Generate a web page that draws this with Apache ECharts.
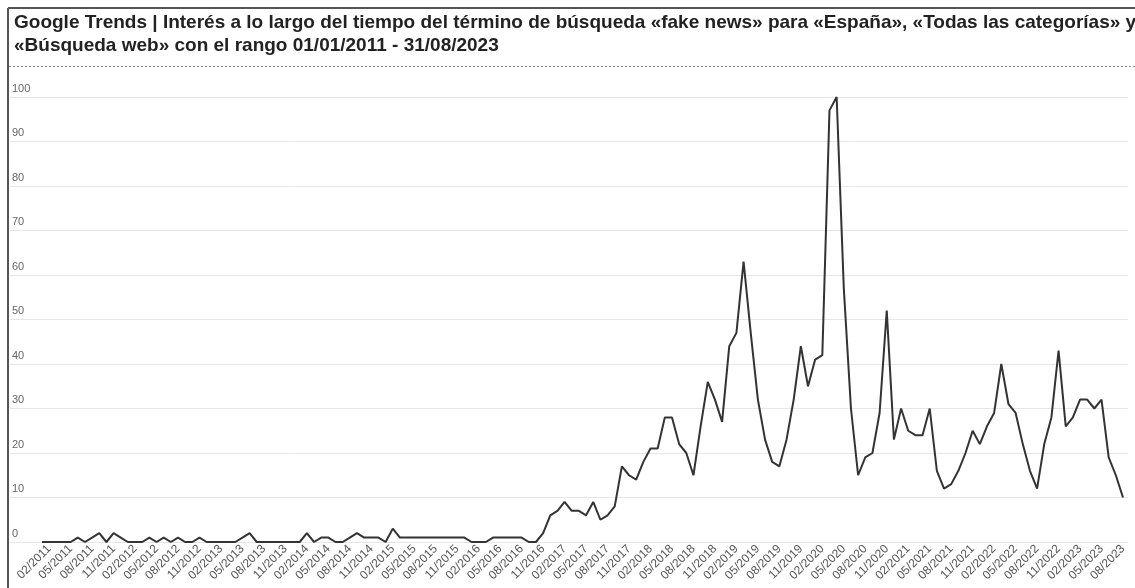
<!DOCTYPE html>
<html>
<head>
<meta charset="utf-8">
<script src="https://cdn.jsdelivr.net/npm/echarts@6/dist/echarts.min.js"></script>
<style>
html,body{margin:0;padding:0;background:#fff;}
#chart{width:1135px;height:588px;}
</style>
</head>
<body>
<div id="chart"></div>
<script>
var titleText = 'Google Trends | Interés a lo largo del tiempo del término de búsqueda «fake news» para «España», «Todas las categorías» y\n«Búsqueda web» con el rango 01/01/2011 - 31/08/2023';

var months = [
'01/2011','02/2011','03/2011','04/2011','05/2011','06/2011','07/2011','08/2011','09/2011','10/2011','11/2011','12/2011',
'01/2012','02/2012','03/2012','04/2012','05/2012','06/2012','07/2012','08/2012','09/2012','10/2012','11/2012','12/2012',
'01/2013','02/2013','03/2013','04/2013','05/2013','06/2013','07/2013','08/2013','09/2013','10/2013','11/2013','12/2013',
'01/2014','02/2014','03/2014','04/2014','05/2014','06/2014','07/2014','08/2014','09/2014','10/2014','11/2014','12/2014',
'01/2015','02/2015','03/2015','04/2015','05/2015','06/2015','07/2015','08/2015','09/2015','10/2015','11/2015','12/2015',
'01/2016','02/2016','03/2016','04/2016','05/2016','06/2016','07/2016','08/2016','09/2016','10/2016','11/2016','12/2016',
'01/2017','02/2017','03/2017','04/2017','05/2017','06/2017','07/2017','08/2017','09/2017','10/2017','11/2017','12/2017',
'01/2018','02/2018','03/2018','04/2018','05/2018','06/2018','07/2018','08/2018','09/2018','10/2018','11/2018','12/2018',
'01/2019','02/2019','03/2019','04/2019','05/2019','06/2019','07/2019','08/2019','09/2019','10/2019','11/2019','12/2019',
'01/2020','02/2020','03/2020','04/2020','05/2020','06/2020','07/2020','08/2020','09/2020','10/2020','11/2020','12/2020',
'01/2021','02/2021','03/2021','04/2021','05/2021','06/2021','07/2021','08/2021','09/2021','10/2021','11/2021','12/2021',
'01/2022','02/2022','03/2022','04/2022','05/2022','06/2022','07/2022','08/2022','09/2022','10/2022','11/2022','12/2022',
'01/2023','02/2023','03/2023','04/2023','05/2023','06/2023','07/2023','08/2023'
];

var interest = [
0,0,0,0,0,1,0,1,2,0,2,1,
0,0,0,1,0,1,0,1,0,0,1,0,
0,0,0,0,1,2,0,0,0,0,0,0,
0,2,0,1,1,0,0,1,2,1,1,1,
0,3,1,1,1,1,1,1,1,1,1,1,
0,0,0,1,1,1,1,1,0,0,2,6,
7,9,7,7,6,9,5,6,8,17,15,14,
18,21,21,28,28,22,20,15,26,36,32,27,
44,47,63,47,32,23,18,17,23,32,44,35,
41,42,97,100,57,30,15,19,20,29,52,23,
30,25,24,24,30,16,12,13,16,20,25,22,
26,29,40,31,29,22,16,12,22,28,43,26,
28,32,32,30,32,19,15,10
];

var yTicks = [0,10,20,30,40,50,60,70,80,90,100];

var chart = echarts.init(document.getElementById('chart'), null, {renderer:'canvas'});
var font = "'Liberation Sans', Arial, Helvetica, sans-serif";

chart.setOption({
  backgroundColor:'#ffffff',
  animation:false,
  title:{
    text:titleText,
    left:9, top:6,
    textStyle:{fontFamily:font, fontSize:19, fontWeight:'bold', color:'#222', lineHeight:23}
  },
  graphic:[
    {type:'line', shape:{x1:8,y1:8,x2:1135,y2:8}, style:{stroke:'#555', lineWidth:2}},
    {type:'line', shape:{x1:8,y1:8,x2:8,y2:588}, style:{stroke:'#555', lineWidth:2}},
    {type:'line', shape:{x1:9,y1:66.5,x2:1135,y2:66.5}, style:{stroke:'#888', lineWidth:1, lineDash:[2,2]}}
  ],
  grid:[
    {left:10, right:7, top:97, bottom:46},
    {left:42, right:12, top:97, bottom:46}
  ],
  xAxis:[
    {type:'value', gridIndex:0, min:0, max:1, show:false},
    {type:'category', gridIndex:1, data:months, boundaryGap:false,
     axisLine:{show:false}, axisTick:{show:false},
     axisLabel:{rotate:45, margin:5, color:'#555', fontFamily:font, fontSize:12,
       interval:function(index){return index % 3 === 1;}}
    }
  ],
  yAxis:[
    {type:'value', gridIndex:0, min:0, max:100, interval:10,
     axisLine:{show:false}, axisTick:{show:false},
     splitLine:{lineStyle:{color:'#e6e6e6', width:1}},
     axisLabel:{inside:true, margin:2, color:'#666', fontFamily:font, fontSize:11,
       verticalAlign:'bottom', padding:[0,0,3,0],
       formatter:function(v){return yTicks.indexOf(v) >= 0 ? String(v) : '';}}
    },
    {type:'value', gridIndex:1, min:0, max:100, show:false}
  ],
  series:[
    {type:'line', xAxisIndex:1, yAxisIndex:1, data:interest, showSymbol:false,
     lineStyle:{color:'#333', width:2}, itemStyle:{color:'#333'}}
  ]
});
</script>
</body>
</html>
